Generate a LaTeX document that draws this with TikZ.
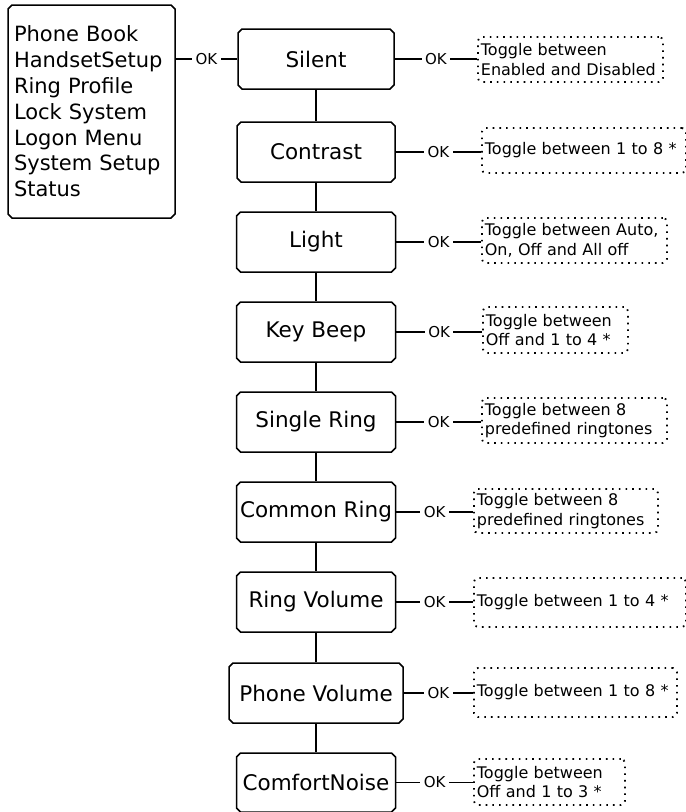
\documentclass[tikz,border=0pt]{standalone}
\usepackage{fontspec}
\setmainfont{DejaVu Sans}
\usetikzlibrary{shapes.misc}
\begin{document}
\begin{tikzpicture}[x=1pt,y=-1pt,
  menubox/.style={chamfered rectangle, chamfered rectangle xsep=2pt, chamfered rectangle ysep=2pt,
    draw, line width=1.5pt, inner sep=0pt, font=\fontsize{21.5}{25.8}\selectfont},
  optbox/.style={draw, line width=1.8pt, dash pattern=on 1.6pt off 5.1pt, rounded corners=4pt,
    anchor=west, inner xsep=3pt, inner ysep=0pt, align=left, minimum height=45pt,
    font=\fontsize{16}{19.5}\selectfont},
  link/.style={line width=1.3pt},
  oklabel/.style={fill=white, inner xsep=3.5pt, inner ysep=1pt, font=\fontsize{15}{16}\selectfont}
]
\useasboundingbox (0,0) rectangle (686,812);

\node[menubox, font=\fontsize{21}{25.8}\selectfont, minimum width=167pt, minimum height=213pt, text width=155pt, align=left] (menu) at (91.5,111.5)
  {Phone Book\\HandsetSetup\\Ring Profile\\Lock System\\Logon Menu\\System Setup\\Status};

\node[menubox, minimum width=156pt, minimum height=60pt] (b1) at (316,59) {Silent};
\node[menubox, minimum width=158pt, minimum height=60pt] (b2) at (316,152) {Contrast};
\node[menubox, minimum width=159pt, minimum height=60pt] (b3) at (316,242) {Light};
\node[menubox, minimum width=159pt, minimum height=60pt] (b4) at (316,332) {Key Beep};
\node[menubox, minimum width=159pt, minimum height=60pt] (b5) at (316,422) {Single Ring};
\node[menubox, minimum width=159pt, minimum height=60pt] (b6) at (316,512) {Common Ring};
\node[menubox, minimum width=159pt, minimum height=60pt] (b7) at (316,602) {Ring Volume};
\node[menubox, minimum width=174pt, minimum height=60pt] (b8) at (316,693) {Phone Volume};
\node[menubox, minimum width=159pt, minimum height=59pt] (b9) at (316,782.5) {ComfortNoise};

\node[optbox, text width=179pt] (o1) at (477,59.5) {Toggle between\\Enabled and Disabled};
\node[optbox, text width=198pt] (o2) at (481,150.5) {Toggle between 1 to 8 *};
\node[optbox, text width=179pt] (o3) at (481,240.5) {Toggle between Auto,\\On, Off and All off};
\node[optbox, text width=139pt, minimum height=46pt] (o4) at (482,330) {Toggle between\\Off and 1 to 4 *};
\node[optbox, text width=179pt] (o5) at (481,420.5) {Toggle between 8\\predefined ringtones};
\node[optbox, text width=178pt, minimum height=44pt] (o6) at (473,511) {Toggle between 8\\predefined ringtones};
\node[optbox, text width=206pt, minimum height=49pt] (o7) at (473,602.5) {Toggle between 1 to 4 *};
\node[optbox, text width=197pt, minimum height=49pt] (o8) at (473,692.5) {Toggle between 1 to 8 *};
\node[optbox, text width=145pt, minimum height=46pt] (o9) at (473,782) {Toggle between\\Off and 1 to 3 *};

\draw[link] (menu.east |- b1.west) -- node[oklabel] {OK} (b1.west);
\foreach \i in {1,...,9} {
  \draw[link] (b\i.east) -- node[oklabel] {OK} (b\i.east -| o\i.west);
}
\foreach \i/\j in {1/2,2/3,3/4,4/5,5/6,6/7,7/8,8/9} {
  \draw[link] (b\i.south) -- (b\j.north);
}
\end{tikzpicture}
\end{document}
